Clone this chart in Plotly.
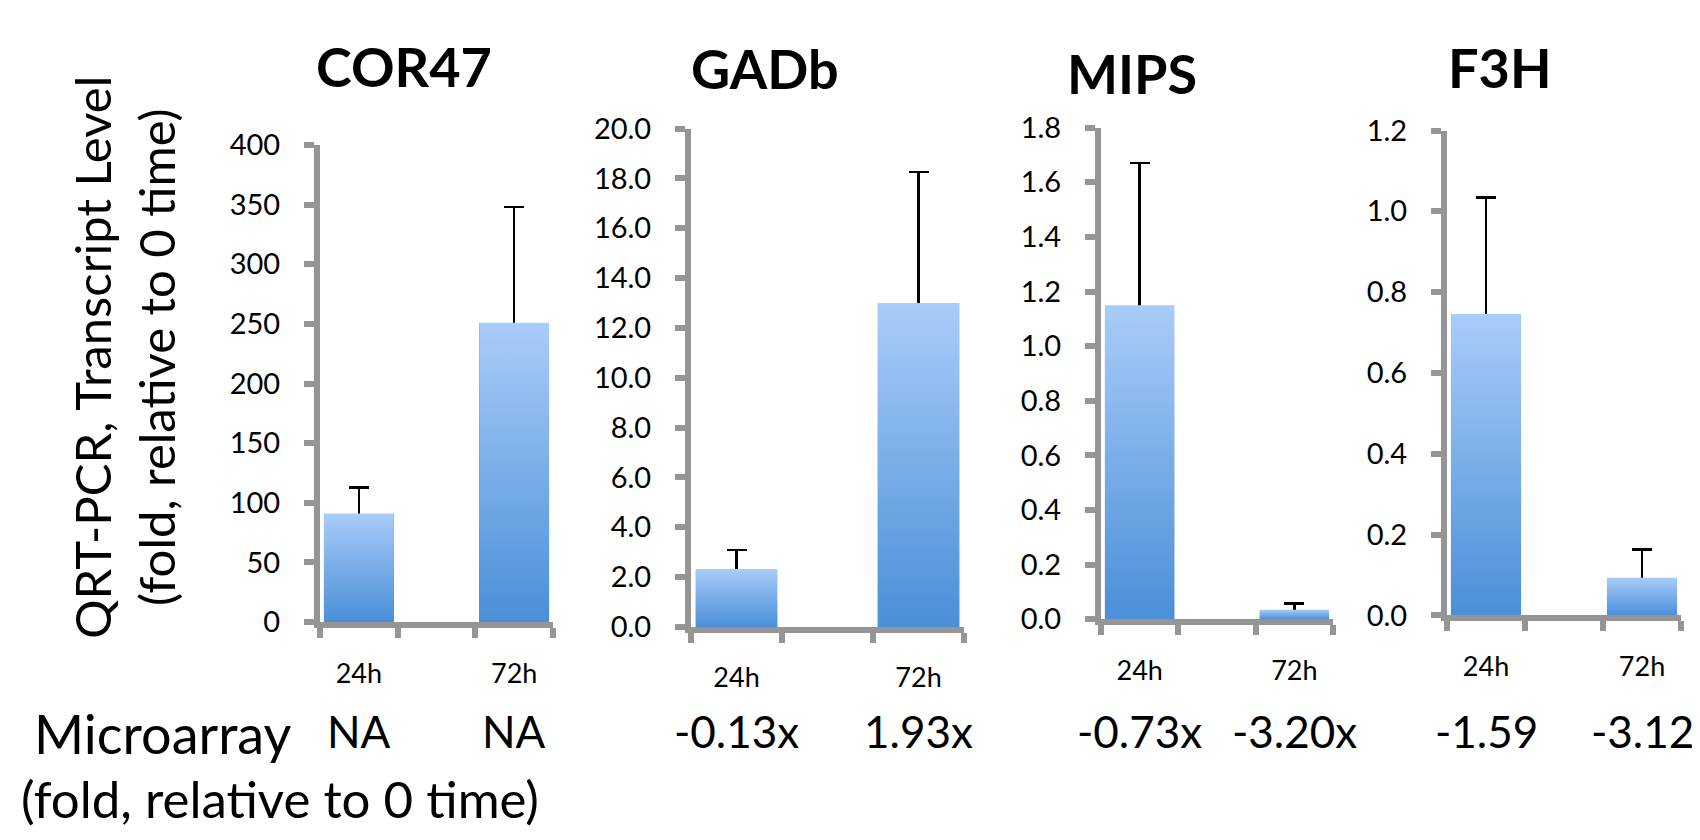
import plotly.graph_objects as go

W, H = 1700, 840

genes = ["COR47", "GADb", "MIPS", "F3H"]
times = ["24h", "72h"]
qpcr_mean = {
    "COR47": [91, 251],
    "GADb": [2.32, 13.0],
    "MIPS": [1.15, 0.035],
    "F3H": [0.746, 0.093],
}
qpcr_err = {
    "COR47": [22, 97],
    "GADb": [0.77, 5.26],
    "MIPS": [0.52, 0.023],
    "F3H": [0.288, 0.07],
}
microarray = {
    "COR47": ["NA", "NA"],
    "GADb": ["-0.13x", "1.93x"],
    "MIPS": ["-0.73x", "-3.20x"],
    "F3H": ["-1.59", "-3.12"],
}
y_max = {"COR47": 400, "GADb": 20, "MIPS": 1.8, "F3H": 1.2}
y_step = {"COR47": 50, "GADb": 2, "MIPS": 0.2, "F3H": 0.2}
y_fmt = {"COR47": "d", "GADb": ".1f", "MIPS": ".1f", "F3H": ".1f"}

# panel boxes in pixels: left, right, y of zero line, y of top tick
boxes = {
    "COR47": (312, 545, 621, 123),
    "GADb": (683, 956, 626, 106),
    "MIPS": (1093, 1325, 618, 105),
    "F3H": (1439, 1673, 614, 108),
}
# title centre in pixels
title_pos = {"COR47": (396, 41), "GADb": (757, 43), "MIPS": (1124, 48), "F3H": (1492, 42)}

FONT = "Lato"
GREY = "#959595"
BAR_DARK = "#4a8fd8"
BAR_LIGHT = "#a9ccf9"

slot = [0, 2]          # 24h in first slot, 72h in third, empty middle slot
half = 0.45

fig = go.Figure()
for i, g in enumerate(genes):
    n = "" if i == 0 else str(i + 1)
    xa, ya = "x" + n, "y" + n
    # bar carries the error bars (lower half hidden under the gradient fill)
    fig.add_trace(go.Bar(
        x=slot, y=qpcr_mean[g], xaxis=xa, yaxis=ya, width=2 * half,
        marker=dict(color=BAR_DARK, line=dict(width=0)),
        error_y=dict(type="data", array=qpcr_err[g], symmetric=True,
                     color="black", thickness=2.6, width=10),
        hoverinfo="skip", showlegend=False,
    ))
    # vertical gradient fill on top of each bar
    for xs, v in zip(slot, qpcr_mean[g]):
        fig.add_trace(go.Scatter(
            x=[xs - half, xs - half, xs + half, xs + half, xs - half],
            y=[0, v, v, 0, 0], xaxis=xa, yaxis=ya,
            mode="lines", line=dict(width=0), fill="toself",
            fillgradient=dict(type="vertical",
                              colorscale=[[0, BAR_DARK], [1, BAR_LIGHT]]),
            hoverinfo="skip", showlegend=False,
        ))

    left, right, y0, y1 = boxes[g]
    fig.layout["xaxis" + n] = dict(
        domain=[left / W, right / W], anchor=ya, range=[-0.5, 2.5],
        showgrid=False, zeroline=False, showline=True, linecolor=GREY, linewidth=6,
        tickvals=slot, ticktext=times, ticks="",
        tickfont=dict(family=FONT, size=27, color="black"), ticklabelstandoff=22,
        minor=dict(tickvals=[-0.5, 0.5, 1.5, 2.5], ticks="outside",
                   ticklen=10, tickwidth=6, tickcolor=GREY),
        fixedrange=True,
    )
    fig.layout["yaxis" + n] = dict(
        domain=[1 - y0 / H, 1 - y1 / H], anchor=xa, range=[0, y_max[g]],
        dtick=y_step[g], tickformat=y_fmt[g],
        showgrid=False, zeroline=False, showline=True, linecolor=GREY, linewidth=6,
        ticks="outside", ticklen=10, tickwidth=6, tickcolor=GREY,
        tickfont=dict(family=FONT, size=29, color="black"), ticklabelstandoff=18,
        fixedrange=True,
    )
    # gene title
    tx, ty = title_pos[g]
    fig.add_annotation(
        text="<b>" + g + "</b>", xref="paper", yref="paper",
        x=tx / W, y=1 - ty / H, xanchor="center", yanchor="middle", showarrow=False,
        font=dict(family=FONT, size=54, color="black"),
    )
    # microarray fold values under each time point
    for xs, t in zip(slot, microarray[g]):
        fig.add_annotation(
            text=t, xref=xa, yref="paper", x=xs, y=1 - 735 / H,
            xanchor="center", yanchor="middle", showarrow=False,
            font=dict(family=FONT, size=44, color="black"),
        )

fig.add_annotation(
    text="QRT-PCR, Transcript Level<br>(fold, relative to 0 time)",
    xref="paper", yref="paper", x=116 / W, y=1 - 345 / H, textangle=-90,
    xanchor="center", yanchor="middle", showarrow=False,
    font=dict(family=FONT, size=49, color="black"),
)
fig.add_annotation(
    text="Microarray", xref="paper", yref="paper", x=155 / W, y=1 - 737 / H,
    xanchor="center", yanchor="middle", showarrow=False,
    font=dict(family=FONT, size=54, color="black"),
)
fig.add_annotation(
    text="(fold, relative to 0 time)", xref="paper", yref="paper",
    x=272 / W, y=1 - 805 / H, xanchor="center", yanchor="middle", showarrow=False,
    font=dict(family=FONT, size=51, color="black"),
)

fig.update_layout(
    width=W, height=H, margin=dict(l=0, r=0, t=0, b=0),
    paper_bgcolor="white", plot_bgcolor="white", showlegend=False,
    bargap=0,
)

fig.write_html("out.html")
